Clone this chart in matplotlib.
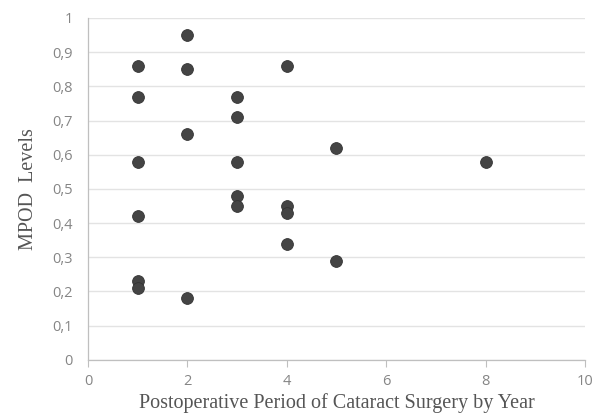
import matplotlib

matplotlib.use("Agg")

import matplotlib.pyplot as plt
from matplotlib.ticker import FuncFormatter, MultipleLocator

# postoperative period (years) and MPOD level per patient
years = [1, 1, 1, 1, 1, 1,
         2, 2, 2, 2,
         3, 3, 3, 3, 3,
         4, 4, 4, 4,
         5, 5,
         8]
mpod = [0.86, 0.77, 0.58, 0.42, 0.23, 0.21,
        0.95, 0.85, 0.66, 0.18,
        0.77, 0.71, 0.58, 0.48, 0.45,
        0.86, 0.45, 0.43, 0.34,
        0.62, 0.29,
        0.58]

AXIS_GREY = "#bfbfbf"
TEXT_GREY = "#858585"

fig = plt.figure(figsize=(6.03, 4.17), dpi=100)
ax = fig.add_axes([0.146, 0.137, 0.824, 0.82])

ax.scatter(years, mpod, s=72, color="#444444", edgecolors="#333333", linewidths=0.6, zorder=3)

ax.set_xlim(0, 10)
ax.set_ylim(0, 1)
ax.xaxis.set_major_locator(MultipleLocator(2))
ax.yaxis.set_major_locator(MultipleLocator(0.1))
ax.yaxis.set_major_formatter(FuncFormatter(lambda v, _: f"{v:.1f}".replace(".", ",").replace("0,0", "0").replace("1,0", "1")))

ax.grid(axis="y", color="#e3e3e3", linewidth=1)
ax.set_axisbelow(True)
for side in ("top", "right"):
    ax.spines[side].set_visible(False)
for side in ("left", "bottom"):
    ax.spines[side].set_color(AXIS_GREY)
    ax.spines[side].set_linewidth(0.9)

ax.tick_params(axis="x", direction="out", length=5, color=AXIS_GREY, labelcolor=TEXT_GREY, labelsize=10.5, pad=5)
ax.tick_params(axis="y", length=0, labelcolor=TEXT_GREY, labelsize=10.5, pad=11)
for lbl in ax.get_xticklabels() + ax.get_yticklabels():
    lbl.set_family("Open Sans")

ax.set_xlabel("Postoperative Period of Cataract Surgery by Year", family="Liberation Serif",
              fontsize=14.5, color="#555555", labelpad=3)
ax.set_ylabel("MPOD  Levels", family="Liberation Serif", fontsize=14.5, color="#555555", labelpad=10)

fig.savefig("out.png", dpi=100)
